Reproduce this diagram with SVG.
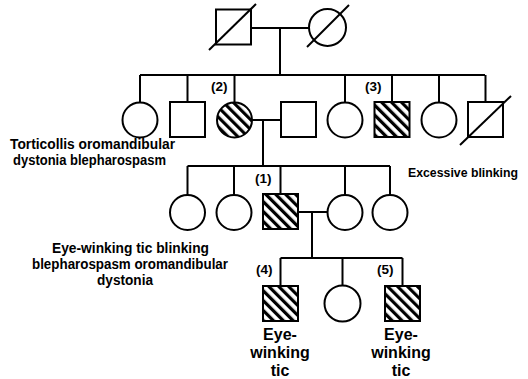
<svg xmlns="http://www.w3.org/2000/svg" width="528" height="379" viewBox="0 0 528 379">
<style>
.s{fill:#fff;stroke:#000;stroke-width:2}
.h{fill:url(#hatch);stroke:#000;stroke-width:2}
.ln{stroke:#000;stroke-width:2;fill:none}
text{font-family:"Liberation Sans",Arial,sans-serif;font-weight:bold;fill:#000}
.t{font-size:14.5px}
.e{font-size:13px}
.b{font-size:16px;text-anchor:middle}
.n{font-size:13.5px}
</style>
<defs>
<pattern id="hatch" patternUnits="userSpaceOnUse" width="7" height="7" patternTransform="rotate(-45)">
<rect width="7" height="7" fill="#fff"/>
<rect x="0" y="0" width="3.2" height="7" fill="#000"/>
</pattern>
</defs>
<rect width="528" height="379" fill="#fff"/>
<g id="connectors" class="ln">
<path d="M251 28H309M280 28V75M140 75H485"/>
<path d="M140 75V102.5M187.5 75V102M234.5 75V102.5M345 75V102.5M392 75V102M439 75V102.5M485.5 75V102"/>
<path d="M252 120H281M263 120V166M187.5 166H390M187.5 166V195M234 166V195M280.5 166V194M345 166V195M390 166V195"/>
<path d="M298 212H327.5M312 212V258M280.5 258H402.5M280.5 258V286M342.5 258V285.5M402.5 258V286"/>
</g>
<g id="gen1-father"><rect class="s" x="216" y="9.5" width="35" height="35"/><line class="ln" x1="209" y1="50" x2="256" y2="4"/></g>
<g id="gen1-mother"><circle class="s" cx="327.5" cy="27.5" r="18.5"/><line class="ln" x1="307" y1="47" x2="349" y2="5"/></g>
<g id="g2-1"><circle class="s" cx="140" cy="120" r="17.5"/></g>
<g id="g2-2"><rect class="s" x="170" y="102" width="35" height="35"/></g>
<g id="g2-3"><circle class="h" cx="234.5" cy="120" r="17.5"/><text class="n" x="211" y="91">(2)</text></g>
<g id="g2-spouse"><rect class="s" x="281" y="102" width="35" height="35"/></g>
<g id="g2-5"><circle class="s" cx="345" cy="120" r="17.5"/></g>
<g id="g2-6"><rect class="h" x="374.5" y="102" width="35" height="35"/><text class="n" x="365" y="91">(3)</text></g>
<g id="g2-7"><circle class="s" cx="439" cy="120" r="17.5"/></g>
<g id="g2-8"><rect class="s" x="468" y="102" width="35" height="35"/><line class="ln" x1="460" y1="145" x2="511" y2="96"/></g>
<g id="g3-1"><circle class="s" cx="187.5" cy="212.5" r="17.5"/></g>
<g id="g3-2"><circle class="s" cx="234" cy="212.5" r="17.5"/></g>
<g id="g3-3"><rect class="h" x="263" y="194" width="35" height="35"/><text class="n" x="255" y="183">(1)</text></g>
<g id="g3-spouse"><circle class="s" cx="345" cy="212.5" r="17.5"/></g>
<g id="g3-5"><circle class="s" cx="390" cy="212.5" r="17.5"/></g>
<g id="g4-1"><rect class="h" x="263" y="286" width="35" height="35"/><text class="n" x="256" y="274">(4)</text></g>
<g id="g4-2"><circle class="s" cx="342.5" cy="303.5" r="18"/></g>
<g id="g4-3"><rect class="h" x="385" y="286" width="35" height="35"/><text class="n" x="377" y="274">(5)</text></g>
<g id="labels">
<text class="t" x="10" y="149" textLength="165" lengthAdjust="spacingAndGlyphs">Torticollis oromandibular</text>
<text class="t" x="13" y="165" textLength="153" lengthAdjust="spacingAndGlyphs">dystonia blepharospasm</text>
<text class="e" x="408" y="177" textLength="110" lengthAdjust="spacingAndGlyphs">Excessive blinking</text>
<text class="t" x="52" y="253" textLength="157" lengthAdjust="spacingAndGlyphs">Eye-winking tic blinking</text>
<text class="t" x="32" y="269" textLength="196" lengthAdjust="spacingAndGlyphs">blepharospasm oromandibular</text>
<text class="t" x="97" y="285" textLength="56" lengthAdjust="spacingAndGlyphs">dystonia</text>
<text class="b" x="280" y="340">Eye-</text>
<text class="b" x="280" y="358">winking</text>
<text class="b" x="280" y="376">tic</text>
<text class="b" x="401" y="340">Eye-</text>
<text class="b" x="401" y="358">winking</text>
<text class="b" x="401" y="376">tic</text>
</g>
</svg>
